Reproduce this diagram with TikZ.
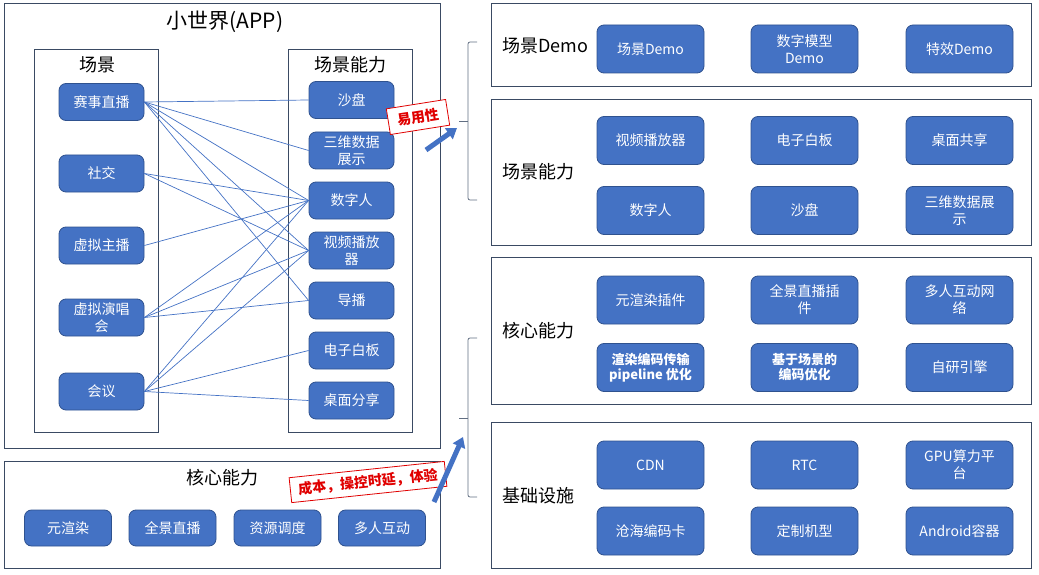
\documentclass[tikz,border=0pt]{standalone}
\usepackage{fontspec}
\setmainfont{Noto Sans CJK SC}
\usetikzlibrary{arrows.meta}
\definecolor{nodefill}{HTML}{4472C4}
\definecolor{nodeborder}{HTML}{2F528F}
\definecolor{frame}{HTML}{3A4A63}
\definecolor{stampred}{HTML}{E00000}
\tikzset{
 container/.style={draw=frame, line width=0.9pt},
 blk/.style={draw=nodeborder, fill=nodefill, rounded corners=7pt, text=white, font=\fontsize{14}{17}\selectfont, align=center, inner sep=1pt, line width=0.8pt},
 lblk/.style={blk, minimum width=85pt, minimum height=37pt},
 rblk/.style={blk, minimum width=107pt, minimum height=48pt},
 bblk/.style={blk, minimum width=87pt, minimum height=36pt},
 link/.style={draw=nodefill, line width=0.7pt},
 stamp/.style={draw=stampred, fill=white, text=stampred, font=\fontsize{14}{16}\selectfont\bfseries, line width=0.8pt, inner sep=2pt},
 bigarrow/.style={draw=nodefill, line width=5pt, -{Triangle[width=13pt,length=10pt]}},
 bracestyle/.style={draw=frame!80, line width=0.8pt, rounded corners=2pt},
 title/.style={font=\fontsize{18}{20}\selectfont},
 smallbold/.style={font=\fontsize{13}{15}\selectfont\bfseries}
}
\begin{document}
\begin{tikzpicture}[x=1pt,y=-1pt]
\useasboundingbox (0,0) rectangle (1039,575);
% ---------- left: APP ----------
\draw[container] (4,3) rectangle (440,448);
\node[font=\fontsize{21}{24}\selectfont] (apptitle) at (225,22) {小世界(APP)};
\draw[container] (34,49) rectangle (158,432);
\node[title] (sctitle) at (97,65) {场景};
\draw[container] (288,49) rectangle (412,432);
\node[title] (abtitle) at (350,65) {场景能力};

\node[lblk] (l1) at (101.5,102) {赛事直播};
\node[lblk] (l2) at (101.5,173.5) {社交};
\node[lblk] (l3) at (101.5,245.5) {虚拟主播};
\node[lblk] (l4) at (101.5,317.5) {虚拟演唱\\会};
\node[lblk] (l5) at (101.5,391.5) {会议};

\node[lblk] (r1) at (351.5,100) {沙盘};
\node[lblk] (r2) at (351.5,150.5) {三维数据\\展示};
\node[lblk] (r3) at (351.5,200.5) {数字人};
\node[lblk] (r4) at (351.5,250.5) {视频播放\\器};
\node[lblk] (r5) at (351.5,300.5) {导播};
\node[lblk] (r6) at (351.5,350.5) {电子白板};
\node[lblk] (r7) at (351.5,400.5) {桌面分享};

\foreach \r in {r1,r2,r3,r4,r5} \draw[link] (l1.east) -- (\r.west);
\foreach \r in {r3,r4} \draw[link] (l2.east) -- (\r.west);
\draw[link] (l3.east) -- (r3.west);
\foreach \r in {r3,r4,r5} \draw[link] (l4.east) -- (\r.west);
\foreach \r in {r3,r4,r6,r7} \draw[link] (l5.east) -- (\r.west);

% ---------- bottom-left: core ----------
\draw[container] (4,461) rectangle (440,568);
\node[title] (coretitle) at (222,478) {核心能力};
\node[bblk] (b1) at (68,528) {元渲染};
\node[bblk] (b2) at (172.5,528) {全景直播};
\node[bblk] (b3) at (277.5,528) {资源调度};
\node[bblk] (b4) at (382,528) {多人互动};

% ---------- right side ----------
\draw[container] (491,3) rectangle (1031,86);
\node[title, anchor=west] (t1) at (499,46) {场景Demo};
\node[rblk] (d1) at (650.5,49) {场景Demo};
\node[rblk] (d2) at (804.5,49) {数字模型\\Demo};
\node[rblk] (d3) at (959.5,49) {特效Demo};

\draw[container] (491,99) rectangle (1031,245);
\node[title, anchor=west] (t2) at (499,172) {场景能力};
\node[rblk] (s1) at (650.5,140.5) {视频播放器};
\node[rblk] (s2) at (804.5,140.5) {电子白板};
\node[rblk] (s3) at (959.5,140.5) {桌面共享};
\node[rblk] (s4) at (650.5,210.5) {数字人};
\node[rblk] (s5) at (804.5,210.5) {沙盘};
\node[rblk] (s6) at (959.5,210.5) {三维数据展\\示};

\draw[container] (491,257) rectangle (1031,404);
\node[title, anchor=west] (t3) at (499,331) {核心能力};
\node[rblk] (c1) at (650.5,300) {元渲染插件};
\node[rblk] (c2) at (804.5,300) {全景直播插\\件};
\node[rblk] (c3) at (959.5,300) {多人互动网\\络};
\node[rblk, smallbold] (c4) at (650.5,367.5) {渲染编码传输\\pipeline 优化};
\node[rblk, smallbold] (c5) at (804.5,367.5) {基于场景的\\编码优化};
\node[rblk] (c6) at (959.5,367.5) {自研引擎};

\draw[container] (491,422) rectangle (1031,568);
\node[title, anchor=west] (t4) at (499,496) {基础设施};
\node[rblk] (i1) at (650.5,465) {CDN};
\node[rblk] (i2) at (804.5,465) {RTC};
\node[rblk] (i3) at (959.5,465) {GPU算力平\\台};
\node[rblk] (i4) at (650.5,531) {沧海编码卡};
\node[rblk] (i5) at (804.5,531) {定制机型};
\node[rblk] (i6) at (959.5,531) {Android容器};

% ---------- braces ----------
\draw[bracestyle] (477,42) -- (468,42) -- (468,200) -- (477,200);
\coordinate (br1) at (459,121);
\draw[bracestyle] (br1) -- (468,121);
\draw[bracestyle] (477,338) -- (468,338) -- (468,497) -- (477,497);
\coordinate (br2) at (459,418);
\draw[bracestyle] (br2) -- (468,418);

% ---------- stamps ----------
\node[stamp, rotate=9, minimum width=60pt, minimum height=26pt] (st1) at (418,117) {易用性};
\node[stamp, rotate=6, minimum width=156pt, minimum height=25pt] (st2) at (368,482) {成本，操控时延，体验};

% ---------- arrows ----------
\coordinate (a1s) at (426,150);
\coordinate (a1e) at (457,128);
\draw[bigarrow] (a1s) -- (a1e);
\coordinate (a2s) at (434,502);
\coordinate (a2e) at (463,437);
\draw[bigarrow] (a2s) -- (a2e);
\end{tikzpicture}
\end{document}
